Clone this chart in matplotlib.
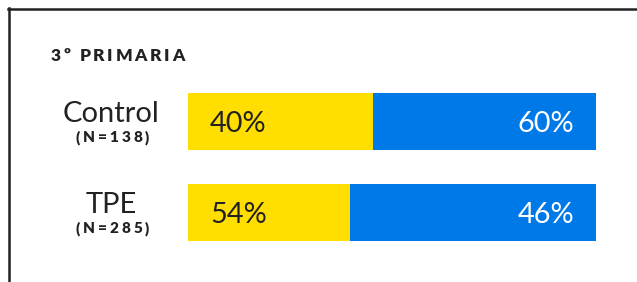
import matplotlib
matplotlib.use("Agg")
import matplotlib.pyplot as plt
from matplotlib.lines import Line2D
from matplotlib.transforms import IdentityTransform, offset_copy

# data
title = "3º PRIMARIA"
groups = ["Control", "TPE"]
n_labels = ["(N=138)", "(N=285)"]
yes_pct = [40, 54]
no_pct = [60, 46]
# yellow segment widths as drawn in the reference (share of bar length)
yes_width = [0.453, 0.397]

YELLOW, BLUE, DARK = "#FFDE00", "#0079E8", "#222222"
plt.rcParams["font.family"] = ["Lato", "DejaVu Sans"]

W, H = 637, 282
fig = plt.figure(figsize=(W / 100, H / 100), dpi=100)
ax = fig.add_axes([188 / W, 24 / H, 408 / W, 182 / H])
ax.set_xlim(0, 1); ax.set_ylim(1.5, -0.5); ax.axis("off")

ys = list(range(len(groups)))
ax.barh(ys, yes_width, height=0.626, color=YELLOW, lw=0)
ax.barh(ys, [1 - w for w in yes_width], left=yes_width, height=0.626, color=BLUE, lw=0)

lt = offset_copy(ax.transData, fig=fig, x=22, y=-10.5, units="dots")
rt = offset_copy(ax.transData, fig=fig, x=-22, y=-10.5, units="dots")
for i in ys:
    ax.text(0, i, f"{yes_pct[i]}%", transform=lt, ha="left", va="baseline", fontsize=20.8, color=DARK)
    ax.text(1, i, f"{no_pct[i]}%", transform=rt, ha="right", va="baseline", fontsize=20.8, color="white")

renderer = fig.canvas.get_renderer()

def spaced(x, y, s, gap, ha="left", **kw):
    # matplotlib has no letter-spacing, so lay characters out one by one (display px)
    ws = []
    for c in s:
        if c == " ":
            ws.append(kw.get("fontsize", 10) * 0.3)
            continue
        t = fig.text(0, 0, c, **kw)
        ws.append(t.get_window_extent(renderer).width)
        t.remove()
    total = sum(ws) + gap * (len(s) - 1)
    cx = x - total / 2 if ha == "center" else x
    for c, w in zip(s, ws):
        fig.text(cx, y, c, transform=IdentityTransform(), ha="left", va="baseline", **kw)
        cx += w + gap

spaced(51, H - 61, title, 2.6, fontsize=12.5, fontweight="heavy", color=DARK)

for i in ys:
    bx, by = ax.transData.transform((0, i))
    fig.text(bx - 76.5, by - 0.5, groups[i], transform=IdentityTransform(),
             ha="center", va="baseline", fontsize=21, color=DARK)
    spaced(bx - 75.5, by - 20.5, n_labels[i], 2.9, ha="center", fontsize=11, fontweight="heavy", color=DARK)

# frame: top and left rules only
fig.add_artist(Line2D([8 / W, 1], [1 - 9 / H] * 2, transform=fig.transFigure, lw=1.8, color=DARK))
fig.add_artist(Line2D([9 / W] * 2, [0, 1 - 8 / H], transform=fig.transFigure, lw=1.8, color=DARK))

fig.savefig("out.png", dpi=100)
